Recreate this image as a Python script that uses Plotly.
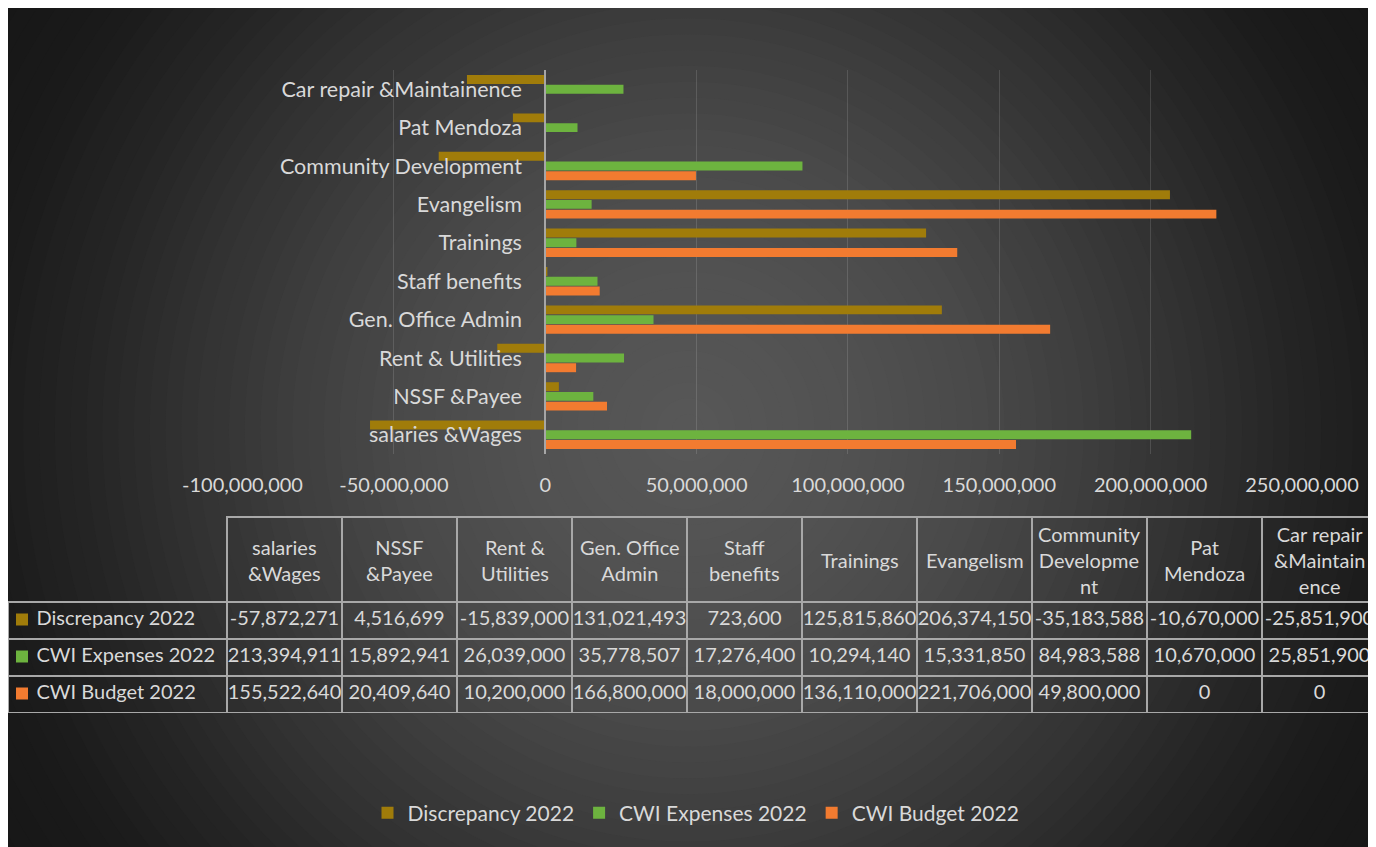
import plotly.graph_objects as go

# ---------------- data ----------------
categories = ["salaries &Wages", "NSSF &Payee", "Rent & Utilities", "Gen. Office Admin",
              "Staff benefits", "Trainings", "Evangelism", "Community Development",
              "Pat Mendoza", "Car repair &Maintainence"]
table_headers = ["salaries<br>&Wages", "NSSF<br>&Payee", "Rent &<br>Utilities", "Gen. Office<br>Admin",
                 "Staff<br>benefits", "Trainings", "Evangelism", "Community<br>Developme<br>nt",
                 "Pat<br>Mendoza", "Car repair<br>&Maintain<br>ence"]
discrepancy_2022 = [-57872271, 4516699, -15839000, 131021493, 723600, 125815860, 206374150,
                    -35183588, -10670000, -25851900]
expenses_2022 = [213394911, 15892941, 26039000, 35778507, 17276400, 10294140, 15331850,
                 84983588, 10670000, 25851900]
budget_2022 = [155522640, 20409640, 10200000, 166800000, 18000000, 136110000, 221706000,
               49800000, 0, 0]
series_names = ["Discrepancy 2022", "CWI Expenses 2022", "CWI Budget 2022"]
series_colors = ["#A07C0A", "#6DB33F", "#F27B30"]
x_tick_vals = [-100000000, -50000000, 0, 50000000, 100000000, 150000000, 200000000, 250000000]
x_tick_text = ["-100,000,000", "-50,000,000", "0", "50,000,000", "100,000,000",
               "150,000,000", "200,000,000", "250,000,000"]

# ---------------- layout geometry ----------------
W, H = 1376, 847
FONT = "Lato, Open Sans, sans-serif"
TXT = "#d9d9d9"
x_dom = [234.5 / W, 1294 / W]
y_dom = [1 - 446 / H, 1 - 62 / H]
x_range = [x_tick_vals[0], x_tick_vals[-1]]
y_axis_pos = x_dom[0] + (0 - x_range[0]) / (x_range[1] - x_range[0]) * (x_dom[1] - x_dom[0])

fig = go.Figure()

# bars: add bottom-to-top within group (Budget lowest, Discrepancy top)
series_vals = [discrepancy_2022, expenses_2022, budget_2022]
for name, vals, col in reversed(list(zip(series_names, series_vals, series_colors))):
    fig.add_trace(go.Bar(y=categories, x=vals, name=name, orientation="h",
                         marker=dict(color=col, line=dict(width=0))))

# data table
NB = "\u00a0"
row_labels = [NB * 4 + n.replace(" ", NB) for n in series_names]
cell_cols = [row_labels]
for i in range(len(categories)):
    cell_cols.append([f"{discrepancy_2022[i]:,}", f"{expenses_2022[i]:,}", f"{budget_2022[i]:,}"])
line_col = "#a8a8a8"
col_widths = [219] + [115] * len(categories)
tbl_left, tbl_top, hdr_h, row_h = 0, 509, 85, 37
tbl_right = tbl_left + sum(col_widths)
fig.add_trace(go.Table(
    domain=dict(x=[tbl_left / W, min(tbl_right / W, 1)],
                y=[1 - (tbl_top + hdr_h + 3 * row_h) / H, 1 - tbl_top / H]),
    columnwidth=col_widths,
    header=dict(values=[""] * (len(categories) + 1), height=hdr_h,
                fill=dict(color="rgba(0,0,0,0)"),
                line=dict(color=["rgba(0,0,0,0)"] + [line_col] * len(categories), width=1.5),
                font=dict(family=FONT, size=20, color=TXT), align="center"),
    cells=dict(values=cell_cols, height=row_h,
               fill=dict(color="rgba(0,0,0,0)"),
               line=dict(color=line_col, width=1.5),
               font=dict(family=FONT, size=20, color=TXT),
               align=["left"] + ["center"] * len(categories)),
))

# header labels, centred line by line inside the header cells
annotations = []
x_acc = tbl_left + col_widths[0]
for hdr, cw in zip(table_headers, col_widths[1:]):
    annotations.append(dict(xref="paper", yref="paper", x=(x_acc + cw / 2) / W,
                            y=1 - (tbl_top + hdr_h / 2) / H, text=hdr, showarrow=False,
                            xanchor="center", yanchor="middle", align="center",
                            font=dict(family=FONT, size=20, color=TXT)))
    x_acc += cw

# radial gradient background (decorative concentric circles)
cx, cy = 680, 422
stops = [(0, 0x58), (150, 0x52), (300, 0x49), (420, 0x3c), (520, 0x30), (620, 0x24),
         (720, 0x1a), (950, 0x12)]


def shade(r):
    for (r0, c0), (r1, c1) in zip(stops[:-1], stops[1:]):
        if r <= r1:
            t = (r - r0) / (r1 - r0)
            v = int(round(c0 + t * (c1 - c0)))
            return f"rgb({v},{v},{v})"
    v = stops[-1][1]
    return f"rgb({v},{v},{v})"


shapes = []
n = 60
for k in range(n):
    r = 950 * (n - k) / n
    shapes.append(dict(type="circle", xref="paper", yref="paper", layer="below",
                       x0=(cx - r) / W, x1=(cx + r) / W, y0=1 - (cy + r) / H, y1=1 - (cy - r) / H,
                       fillcolor=shade(r), line=dict(width=0)))

# legend-key squares in the table's first column
key = 12
for j, col in enumerate(series_colors):
    yc = tbl_top + hdr_h + row_h * (j + 0.5) - 1
    shapes.append(dict(type="rect", xref="paper", yref="paper", layer="above",
                       x0=(tbl_left + 8) / W, x1=(tbl_left + 8 + key) / W,
                       y0=1 - (yc + key / 2) / H, y1=1 - (yc - key / 2) / H,
                       fillcolor=col, line=dict(width=0)))

fig.update_layout(
    width=W, height=H,
    margin=dict(l=0, r=0, t=0, b=0, autoexpand=False),
    paper_bgcolor="#121212",
    plot_bgcolor="rgba(0,0,0,0)",
    shapes=shapes,
    annotations=annotations,
    barmode="group", bargap=0.24, bargroupgap=0.08,
    font=dict(family=FONT, size=20, color=TXT),
    xaxis=dict(domain=x_dom, range=x_range, tickvals=x_tick_vals, ticktext=x_tick_text,
               showgrid=True, gridcolor="rgba(255,255,255,0.13)", gridwidth=1,
               zeroline=False, showline=False, ticks="", ticklabelstandoff=17, automargin=False,
               tickfont=dict(family=FONT, size=20, color=TXT), fixedrange=True),
    yaxis=dict(domain=y_dom, anchor="free", position=y_axis_pos, showgrid=False,
               zeroline=False, showline=True, linecolor="#a6a6a6", linewidth=2,
               ticks="", ticklabelstandoff=18, automargin=False,
               tickfont=dict(family=FONT, size=21.5, color=TXT), fixedrange=True),
    showlegend=True,
    legend=dict(orientation="h", x=0.5, xanchor="center", y=1 - 805 / H, yanchor="middle",
                traceorder="reversed", font=dict(family=FONT, size=21, color=TXT),
                bgcolor="rgba(0,0,0,0)", itemwidth=30),
)

fig.write_html("out.html")
